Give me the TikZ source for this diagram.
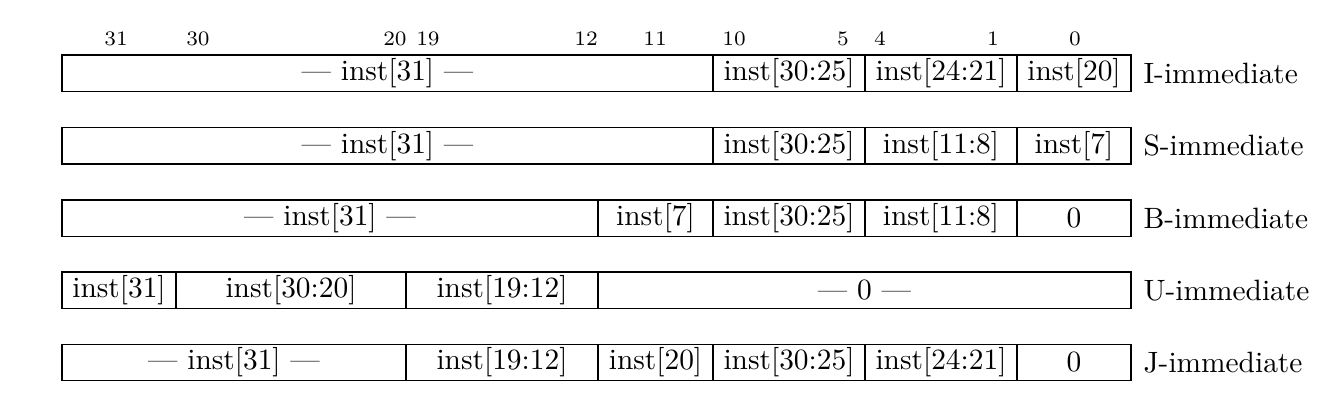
\documentclass[tikz,border=0pt]{standalone}
\begin{document}
\begin{tikzpicture}[x=0.34pt,y=-0.34pt,
  cell/.style={draw, line width=0.4pt, minimum height=36.6*0.34pt, inner sep=0pt, font=\fontsize{10}{12}\selectfont},
  bitnum/.style={font=\fontsize{7}{8}\selectfont, inner sep=0pt, anchor=base},
  rowname/.style={anchor=west, inner sep=0pt, font=\fontsize{10}{12}\selectfont}]
\useasboundingbox (0,0) rectangle (1338,418);
\newcommand\cell[5]{\node[cell, minimum width={(#3-#2)*0.34pt}] (#1) at ({(#2+#3)/2},#4) {#5};}
% bit numbers
\node[bitnum] (n31) at (116,45.5) {31};
\node[bitnum] (n30) at (198,45.5) {30};
\node[bitnum] (n20) at (395,45.5) {20};
\node[bitnum] (n19) at (428,45.5) {19};
\node[bitnum] (n12) at (586,45.5) {12};
\node[bitnum] (n11) at (655,45.5) {11};
\node[bitnum] (n10) at (734,45.5) {10};
\node[bitnum] (n5) at (843,45.5) {5};
\node[bitnum] (n4) at (880,45.5) {4};
\node[bitnum] (n1) at (993,45.5) {1};
\node[bitnum] (n0) at (1075,45.5) {0};
% I
\cell{i1}{62}{713}{73.3}{--- inst[31] ---}
\cell{i2}{713}{865}{73.3}{inst[30:25]}
\cell{i3}{865}{1017}{73.3}{inst[24:21]}
\cell{i4}{1017}{1131}{73.3}{inst[20]}
\node[rowname] (ri) at (1143,73.3) {I-immediate};
% S
\cell{s1}{62}{713}{145.7}{--- inst[31] ---}
\cell{s2}{713}{865}{145.7}{inst[30:25]}
\cell{s3}{865}{1017}{145.7}{inst[11:8]}
\cell{s4}{1017}{1131}{145.7}{inst[7]}
\node[rowname] (rs) at (1143,145.7) {S-immediate};
% B
\cell{b1}{62}{598}{218.3}{--- inst[31] ---}
\cell{b2}{598}{713}{218.3}{inst[7]}
\cell{b3}{713}{865}{218.3}{inst[30:25]}
\cell{b4}{865}{1017}{218.3}{inst[11:8]}
\cell{b5}{1017}{1131}{218.3}{0}
\node[rowname] (rb) at (1143,218.3) {B-immediate};
% U
\cell{u1}{62}{176}{290.3}{inst[31]}
\cell{u2}{176}{406}{290.3}{inst[30:20]}
\cell{u3}{406}{598}{290.3}{inst[19:12]}
\cell{u4}{598}{1131}{290.3}{--- 0 ---}
\node[rowname] (ru) at (1143,290.3) {U-immediate};
% J
\cell{j1}{62}{406}{362.5}{--- inst[31] ---}
\cell{j2}{406}{598}{362.5}{inst[19:12]}
\cell{j3}{598}{713}{362.5}{inst[20]}
\cell{j4}{713}{865}{362.5}{inst[30:25]}
\cell{j5}{865}{1017}{362.5}{inst[24:21]}
\cell{j6}{1017}{1131}{362.5}{0}
\node[rowname] (rj) at (1143,362.5) {J-immediate};
\end{tikzpicture}
\end{document}
